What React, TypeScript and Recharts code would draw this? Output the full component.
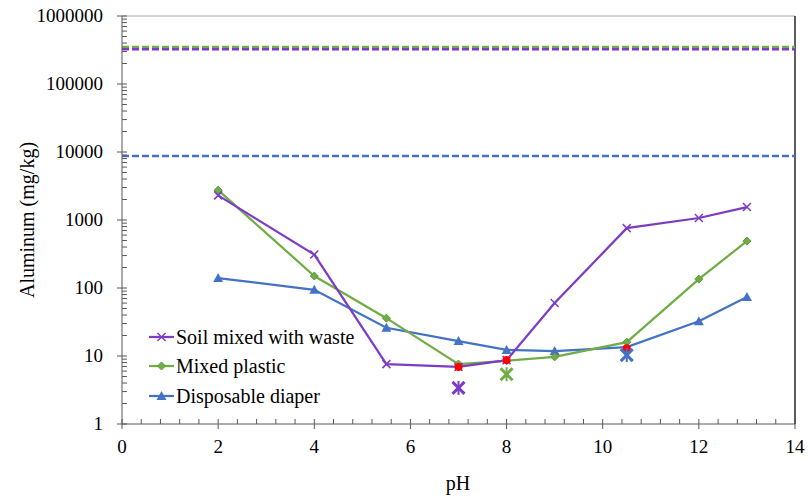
import { ComposedChart, Line, Scatter, XAxis, YAxis, ReferenceLine } from 'recharts';

const phValues = [2, 4, 5.5, 7, 8, 9, 10.5, 12, 13];
const soilValues = [2300, 310, 7.6, 6.9, 8.7, 60, 760, 1070, 1550];
const plasticValues = [2750, 150, 36, 7.6, 8.5, 9.7, 16, 135, 490];
const diaperValues = [140, 94, 26, 16.6, 12.3, 11.8, 13.5, 32.5, 74];

const redPh = [7, 8, 10.5];
const redValues = [6.9, 8.7, 13];
const starPh = [7, 8, 10.5];
const starValues = [3.4, 5.4, 10.3];

const limitSoil = 325000;
const limitPlastic = 350000;
const limitDiaper = 8700;

const xMajorTicks = [0, 2, 4, 6, 8, 10, 12, 14];
const yMajorTicks = [1, 10, 100, 1000, 10000, 100000, 1000000];

const PURPLE = '#7D3CC3';
const GREEN = '#70AD47';
const BLUE = '#4472C4';
const FONT = '"Liberation Serif", "Times New Roman", serif';

const toRows = (ys: number[]) => phValues.map((ph, i) => ({ ph, v: ys[i] }));
const soil = toRows(soilValues);
const plastic = toRows(plasticValues);
const diaper = toRows(diaperValues);
const redDots = redPh.map((ph, i) => ({ ph, v: redValues[i] }));
const stars = starPh.map((ph, i) => ({ ph, v: starValues[i], c: [PURPLE, GREEN, BLUE][i] }));

// minor ticks: every 0.4 on x, 2..9 per decade on y
const xTicks: number[] = [];
for (let i = 0; i <= 35; i++) xTicks.push(Math.round(i * 0.4 * 10) / 10);
const yTicks: number[] = [];
yMajorTicks.forEach((d, i) => {
  yTicks.push(d);
  if (i < yMajorTicks.length - 1) for (let k = 2; k <= 9; k++) yTicks.push(d * k);
});

const XTick = (props: any) => {
  const { x, y, payload } = props;
  const major = xMajorTicks.includes(payload.value);
  return (
    <g>
      <line x1={x} x2={x} y1={y - 5} y2={major ? y + 5 : y} stroke="#595959" strokeWidth={1} />
      {major && (
        <text x={x} y={y + 29} textAnchor="middle" style={{ fontFamily: FONT }} fontSize={19} fill="#000">
          {payload.value}
        </text>
      )}
    </g>
  );
};

const YTick = (props: any) => {
  const { x, y, payload } = props;
  const major = yMajorTicks.includes(payload.value);
  return (
    <g>
      <line x1={major ? x - 5 : x} x2={x + 5} y1={y} y2={y} stroke="#595959" strokeWidth={1} />
      {major && (
        <text x={x - 19} y={y + 6} textAnchor="end" style={{ fontFamily: FONT }} fontSize={19} fill="#000">
          {payload.value}
        </text>
      )}
    </g>
  );
};

const Cross = (props: any) => {
  const { cx, cy } = props;
  if (cx == null || cy == null) return null;
  return (
    <g stroke={PURPLE} strokeWidth={1.5}>
      <line x1={cx - 4} y1={cy - 4} x2={cx + 4} y2={cy + 4} />
      <line x1={cx - 4} y1={cy + 4} x2={cx + 4} y2={cy - 4} />
    </g>
  );
};

const Diamond = (props: any) => {
  const { cx, cy } = props;
  if (cx == null || cy == null) return null;
  return <path d={`M${cx},${cy - 4}L${cx + 4},${cy}L${cx},${cy + 4}L${cx - 4},${cy}Z`} fill={GREEN} stroke="#5E9A38" strokeWidth={1} />;
};

const Triangle = (props: any) => {
  const { cx, cy } = props;
  if (cx == null || cy == null) return null;
  return <path d={`M${cx},${cy - 5}L${cx + 5},${cy + 4}L${cx - 5},${cy + 4}Z`} fill={BLUE} />;
};

const RedDot = (props: any) => {
  const { cx, cy } = props;
  return <circle cx={cx} cy={cy} r={4} fill="#FF0000" />;
};

const Star = (props: any) => {
  const { cx, cy, payload } = props;
  return (
    <g stroke={payload.c} strokeWidth={3}>
      <line x1={cx - 6} y1={cy - 6} x2={cx + 6} y2={cy + 6} />
      <line x1={cx - 6} y1={cy + 6} x2={cx + 6} y2={cy - 6} />
      <line x1={cx} y1={cy - 7} x2={cx} y2={cy + 7} strokeWidth={2} />
    </g>
  );
};

const legendItems = [
  { label: 'Soil mixed with waste', color: PURPLE, Mark: Cross },
  { label: 'Mixed plastic', color: GREEN, Mark: Diamond },
  { label: 'Disposable diaper', color: BLUE, Mark: Triangle },
];

const LegendBox = () => (
  <div style={{ position: 'absolute', left: 148, top: 322, fontFamily: FONT, fontSize: 20, color: '#000', lineHeight: 1 }}>
    {legendItems.map(({ label, color, Mark }) => (
      <div key={label} style={{ display: 'flex', alignItems: 'center', height: 29.5 }}>
        <svg width={27} height={14} style={{ marginRight: 1 }}>
          <line x1={1} x2={26} y1={7} y2={7} stroke={color} strokeWidth={2.25} />
          <Mark cx={13.5} cy={7} />
        </svg>
        <span>{label}</span>
      </div>
    ))}
  </div>
);

export default function App() {
  return (
    <div style={{ position: 'absolute', left: 0, top: 0, width: 808, height: 502, background: '#fff' }}>
      <ComposedChart width={808} height={502} margin={{ top: 16, right: 13, bottom: 0, left: 0 }}>
        <XAxis
          type="number"
          dataKey="ph"
          domain={[0, 14]}
          ticks={xTicks}
          interval={0}
          tickSize={0}
          tickMargin={0}
          tick={<XTick />}
          height={78}
          stroke="#595959"
          allowDataOverflow
          label={{
            content: () => (
              <text x={458} y={490} textAnchor="middle" style={{ fontFamily: FONT }} fontSize={20} fill="#000">
                pH
              </text>
            ),
          }}
        />
        <YAxis
          type="number"
          dataKey="v"
          scale="log"
          domain={[1, 1000000]}
          ticks={yTicks}
          interval={0}
          tickSize={0}
          tickMargin={0}
          tick={<YTick />}
          width={122}
          stroke="#595959"
          allowDataOverflow
          label={{
            content: () => (
              <text x={34} y={220} transform="rotate(-90, 34, 220)" textAnchor="middle" style={{ fontFamily: FONT }} fontSize={20} fill="#000">
                Aluminum (mg/kg)
              </text>
            ),
          }}
        />
        <ReferenceLine y={1000000} stroke="#A6A6A6" strokeWidth={1} />
        <ReferenceLine x={14} stroke="#262626" strokeWidth={1.5} />
        <ReferenceLine y={limitPlastic} stroke={GREEN} strokeWidth={2.5} strokeDasharray="7 3" />
        <ReferenceLine y={limitSoil} stroke={PURPLE} strokeWidth={2.5} strokeDasharray="7 3" />
        <ReferenceLine y={limitDiaper} stroke={BLUE} strokeWidth={2.5} strokeDasharray="7 3" />
        <Line data={diaper} dataKey="v" name="Disposable diaper" stroke={BLUE} strokeWidth={2.25} dot={<Triangle />} isAnimationActive={false} />
        <Line data={plastic} dataKey="v" name="Mixed plastic" stroke={GREEN} strokeWidth={2.25} dot={<Diamond />} isAnimationActive={false} />
        <Line data={soil} dataKey="v" name="Soil mixed with waste" stroke={PURPLE} strokeWidth={2.25} dot={<Cross />} isAnimationActive={false} />
        <Scatter data={redDots} dataKey="v" shape={<RedDot />} isAnimationActive={false} />
        <Scatter data={stars} dataKey="v" shape={<Star />} isAnimationActive={false} />
      </ComposedChart>
      <LegendBox />
    </div>
  );
}
